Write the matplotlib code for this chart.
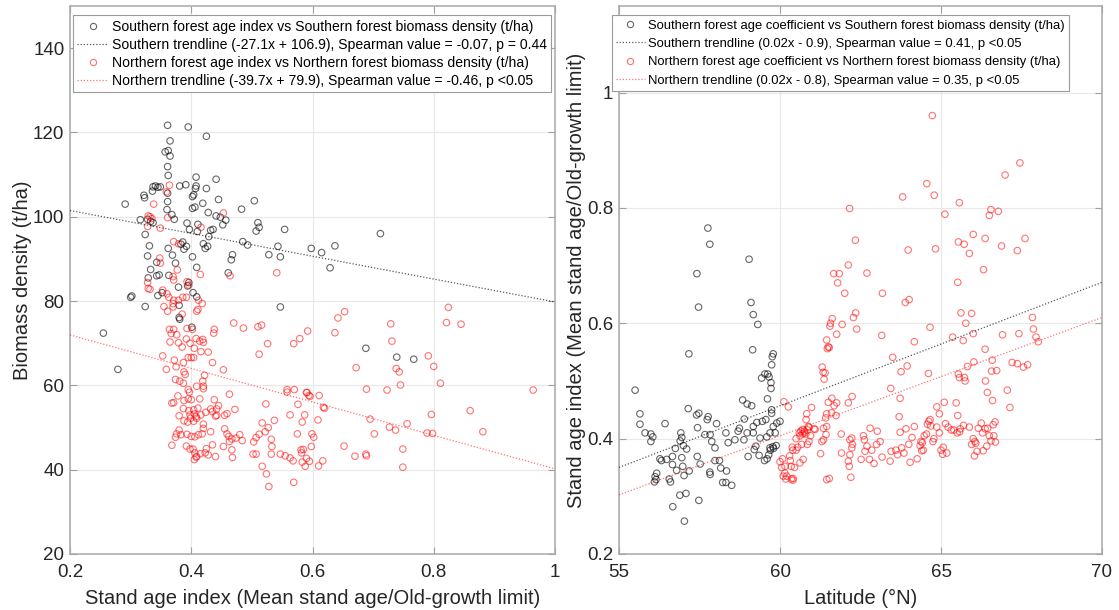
import numpy as np
import matplotlib
matplotlib.use("Agg")
import matplotlib.pyplot as plt
from matplotlib.lines import Line2D

plt.rcParams["font.family"] = ["Liberation Sans", "DejaVu Sans"]

# === Left panel: stand age index vs biomass density (t/ha) ===
left_south = [
    (0.255, 72.4), (0.279, 63.8), (0.291, 103.0), (0.300, 80.9), (0.302, 81.2), (0.316, 99.3),
    (0.322, 105.1), (0.323, 104.5), (0.324, 95.8), (0.324, 78.7), (0.328, 99.4), (0.328, 90.7),
    (0.329, 85.5), (0.331, 93.1), (0.333, 98.9), (0.333, 87.5), (0.336, 106.1), (0.337, 98.6),
    (0.337, 107.1), (0.341, 107.3), (0.345, 107.0), (0.349, 107.1), (0.343, 89.2), (0.343, 86.0),
    (0.345, 81.3), (0.347, 86.2), (0.352, 82.0), (0.357, 115.4), (0.360, 101.7), (0.361, 121.7),
    (0.361, 111.9), (0.361, 105.6), (0.361, 103.6), (0.362, 115.7), (0.362, 109.8), (0.362, 92.5),
    (0.363, 86.1), (0.365, 118.0), (0.365, 114.4), (0.368, 100.5), (0.369, 90.9), (0.372, 99.4),
    (0.374, 89.0), (0.379, 83.3), (0.380, 79.0), (0.380, 76.1), (0.381, 75.7), (0.381, 107.3),
    (0.383, 93.5), (0.386, 94.0), (0.388, 92.3), (0.391, 107.6), (0.392, 93.0), (0.393, 98.5),
    (0.395, 121.3), (0.394, 83.6), (0.396, 84.4), (0.397, 97.0), (0.401, 73.8), (0.402, 102.0),
    (0.402, 104.8), (0.402, 90.5), (0.403, 82.0), (0.404, 105.2), (0.406, 102.3), (0.407, 106.7),
    (0.408, 107.3), (0.408, 109.4), (0.408, 131.0), (0.409, 88.0), (0.409, 81.0), (0.410, 96.5),
    (0.411, 98.2), (0.419, 103.2), (0.420, 93.6), (0.423, 92.5), (0.425, 119.1), (0.425, 106.7),
    (0.427, 93.0), (0.428, 101.0), (0.429, 95.3), (0.432, 96.8), (0.436, 97.0), (0.441, 108.9),
    (0.441, 100.2), (0.445, 104.1), (0.448, 99.9), (0.452, 98.1), (0.457, 99.2), (0.461, 86.7),
    (0.466, 89.8), (0.468, 91.0), (0.483, 101.8), (0.485, 94.1), (0.493, 93.3), (0.504, 103.8),
    (0.507, 96.6), (0.510, 98.6), (0.512, 97.5), (0.528, 91.0), (0.543, 93.0), (0.547, 90.5),
    (0.547, 78.6), (0.554, 97.0), (0.598, 92.5), (0.615, 91.5), (0.629, 87.9), (0.637, 93.1),
    (0.688, 68.8), (0.712, 96.0), (0.739, 66.7), (0.767, 66.2),
]

left_north = [
    (0.364, 107.5), (0.359, 105.9), (0.338, 103.0), (0.453, 100.9), (0.329, 100.2), (0.332, 100.0),
    (0.335, 99.6), (0.328, 97.7), (0.349, 97.3), (0.361, 99.8), (0.416, 97.5), (0.371, 94.1),
    (0.379, 93.6), (0.348, 90.2), (0.349, 89.0), (0.377, 87.4), (0.370, 85.8), (0.371, 85.0),
    (0.415, 86.3), (0.464, 86.0), (0.541, 86.7), (0.328, 84.4), (0.329, 83.0), (0.332, 82.8),
    (0.393, 84.6), (0.396, 83.8), (0.353, 82.6), (0.360, 81.7), (0.363, 80.9), (0.371, 80.2),
    (0.370, 79.4), (0.379, 80.2), (0.386, 80.9), (0.392, 80.9), (0.412, 80.2), (0.418, 79.4),
    (0.409, 77.6), (0.411, 78.0), (0.355, 78.7), (0.361, 77.6), (0.385, 76.9), (0.370, 78.6),
    (0.470, 74.8), (0.486, 73.6), (0.510, 73.9), (0.516, 74.3), (0.592, 72.9), (0.364, 73.3),
    (0.371, 73.3), (0.393, 73.5), (0.402, 73.3), (0.438, 73.3), (0.437, 72.4), (0.367, 72.3),
    (0.376, 72.0), (0.408, 71.1), (0.579, 71.1), (0.569, 69.9), (0.526, 69.9), (0.419, 70.9),
    (0.365, 70.3), (0.379, 70.1), (0.385, 69.1), (0.392, 71.0), (0.398, 70.0), (0.405, 68.8),
    (0.414, 70.5), (0.420, 70.2), (0.416, 68.0), (0.428, 67.9), (0.512, 67.4), (0.353, 67.0),
    (0.359, 63.8), (0.372, 66.0), (0.375, 64.4), (0.387, 65.4), (0.388, 63.2), (0.390, 62.6),
    (0.395, 66.6), (0.400, 66.6), (0.404, 66.6), (0.435, 65.4), (0.453, 63.7), (0.374, 61.4),
    (0.381, 61.0), (0.387, 60.5), (0.419, 61.0), (0.422, 62.4), (0.420, 59.8), (0.420, 59.2),
    (0.409, 59.8), (0.395, 59.0), (0.397, 58.4), (0.378, 57.5), (0.388, 56.4), (0.395, 56.8),
    (0.400, 56.6), (0.414, 56.8), (0.368, 55.8), (0.371, 55.9), (0.463, 57.9), (0.438, 56.6),
    (0.445, 55.2), (0.442, 54.4), (0.440, 52.7), (0.472, 54.3), (0.459, 53.3), (0.455, 52.9),
    (0.523, 55.6), (0.558, 59.0), (0.558, 58.4), (0.570, 59.0), (0.590, 58.3), (0.594, 57.6),
    (0.576, 55.5), (0.387, 54.5), (0.396, 54.0), (0.404, 54.2), (0.411, 54.6), (0.398, 53.0),
    (0.405, 53.2), (0.408, 52.6), (0.416, 53.0), (0.424, 53.6), (0.432, 54.4), (0.380, 52.8),
    (0.388, 51.6), (0.394, 51.3), (0.399, 52.2), (0.404, 51.5), (0.409, 52.2), (0.420, 50.8),
    (0.435, 53.8), (0.442, 52.9), (0.380, 49.4), (0.383, 48.3), (0.393, 48.4), (0.400, 47.9),
    (0.406, 47.8), (0.412, 48.3), (0.418, 48.5), (0.420, 49.8), (0.432, 49.0), (0.374, 47.7),
    (0.368, 45.8), (0.376, 48.5), (0.392, 45.6), (0.398, 44.9), (0.403, 44.9), (0.406, 44.0),
    (0.408, 43.0), (0.405, 42.4), (0.409, 43.1), (0.415, 43.8), (0.423, 44.0), (0.425, 45.0),
    (0.428, 43.5), (0.435, 45.9), (0.440, 43.1), (0.455, 49.7), (0.459, 48.5), (0.462, 47.9),
    (0.467, 47.3), (0.463, 46.7), (0.467, 44.7), (0.468, 42.9), (0.453, 45.5), (0.480, 48.3),
    (0.484, 46.9), (0.474, 47.5), (0.503, 46.6), (0.507, 47.6), (0.512, 48.4), (0.517, 51.1),
    (0.522, 49.0), (0.527, 50.0), (0.537, 51.7), (0.532, 47.2), (0.533, 45.5), (0.532, 43.7),
    (0.547, 43.7), (0.502, 43.7), (0.507, 43.7), (0.517, 40.8), (0.524, 39.0), (0.528, 36.0),
    (0.563, 53.0), (0.575, 48.5), (0.587, 53.0), (0.582, 44.0), (0.585, 44.8), (0.595, 42.0),
    (0.588, 40.8), (0.563, 42.8), (0.555, 43.3), (0.568, 42.1), (0.569, 37.0), (0.824, 78.5),
    (0.821, 74.9), (0.845, 74.5), (0.729, 74.6), (0.731, 70.5), (0.642, 76.0), (0.653, 77.5),
    (0.637, 72.5), (0.672, 64.2), (0.791, 67.0), (0.800, 64.5), (0.811, 60.5), (0.738, 64.0),
    (0.743, 63.2), (0.745, 60.1), (0.689, 59.1), (0.723, 58.9), (0.964, 58.9), (0.591, 58.3),
    (0.596, 57.4), (0.611, 57.6), (0.618, 54.8), (0.620, 54.6), (0.583, 51.3), (0.609, 51.8),
    (0.695, 52.0), (0.727, 50.1), (0.737, 49.4), (0.756, 50.9), (0.796, 53.1), (0.860, 54.0),
    (0.881, 49.0), (0.789, 48.7), (0.798, 48.6), (0.702, 48.5), (0.599, 48.5), (0.602, 47.7),
    (0.598, 45.5), (0.581, 44.7), (0.583, 41.8), (0.590, 42.7), (0.610, 40.9), (0.617, 42.1),
    (0.652, 45.6), (0.670, 43.2), (0.688, 43.7), (0.689, 43.3), (0.749, 44.9), (0.749, 40.6),
]

# === Right panel: latitude (deg N) vs stand age index ===
right_south = [
    (57.76, 0.765), (57.82, 0.737), (57.42, 0.686), (57.47, 0.628), (59.04, 0.711), (59.10, 0.636),
    (59.17, 0.615), (59.31, 0.598), (57.17, 0.547), (59.15, 0.554), (55.50, 0.484), (55.65, 0.443),
    (55.65, 0.425), (55.81, 0.410), (55.99, 0.408), (56.05, 0.403), (55.99, 0.395), (56.43, 0.426),
    (57.15, 0.452), (57.41, 0.441), (57.48, 0.444), (57.44, 0.419), (57.77, 0.438), (57.74, 0.433),
    (58.03, 0.426), (56.92, 0.410), (56.95, 0.402), (56.90, 0.396), (57.00, 0.388), (57.10, 0.382),
    (56.75, 0.383), (56.48, 0.364), (56.27, 0.365), (56.32, 0.362), (56.17, 0.340), (56.12, 0.334),
    (56.15, 0.329), (56.10, 0.325), (56.56, 0.330), (56.60, 0.325), (56.79, 0.345), (56.66, 0.355),
    (56.66, 0.369), (57.02, 0.336), (57.18, 0.344), (56.95, 0.367), (56.98, 0.352), (57.43, 0.369),
    (57.52, 0.356), (57.67, 0.407), (57.83, 0.407), (57.88, 0.395), (57.98, 0.384), (57.82, 0.342),
    (57.83, 0.338), (57.98, 0.362), (58.12, 0.362), (58.16, 0.349), (58.34, 0.344), (58.22, 0.324),
    (58.32, 0.324), (58.50, 0.319), (58.32, 0.410), (58.39, 0.393), (58.60, 0.398), (58.70, 0.413),
    (58.74, 0.418), (58.84, 0.467), (58.98, 0.460), (59.12, 0.457), (58.89, 0.434), (58.88, 0.398),
    (59.01, 0.369), (58.98, 0.410), (59.17, 0.421), (59.28, 0.428), (59.45, 0.430), (59.17, 0.410),
    (59.38, 0.401), (59.25, 0.387), (59.20, 0.381), (59.35, 0.371), (59.52, 0.362), (59.60, 0.365),
    (59.65, 0.372), (59.70, 0.380), (59.80, 0.383), (59.88, 0.388), (59.43, 0.505), (59.53, 0.512),
    (59.62, 0.512), (59.66, 0.507), (59.72, 0.497), (59.72, 0.487), (59.74, 0.528), (59.79, 0.547),
    (59.76, 0.542), (59.61, 0.469), (59.74, 0.450), (59.74, 0.444), (59.56, 0.433), (59.79, 0.421),
    (59.90, 0.427), (60.00, 0.430), (59.69, 0.410), (59.59, 0.403), (59.69, 0.384), (59.78, 0.386),
    (59.85, 0.410), (56.67, 0.282), (56.89, 0.302), (57.08, 0.305), (57.48, 0.293), (57.03, 0.257),
]

right_north = [
    (60.12, 0.464), (60.26, 0.455), (60.00, 0.360), (60.05, 0.350), (60.08, 0.365), (60.15, 0.340),
    (60.10, 0.335), (60.18, 0.330), (60.35, 0.330), (60.40, 0.328), (60.30, 0.370), (60.32, 0.362),
    (60.35, 0.352), (60.45, 0.350), (60.38, 0.385), (60.40, 0.380), (60.50, 0.380), (60.55, 0.385),
    (60.50, 0.400), (60.60, 0.410), (60.65, 0.413), (60.62, 0.405), (60.70, 0.408), (60.75, 0.410),
    (60.80, 0.408), (60.85, 0.415), (60.90, 0.420), (60.95, 0.405), (60.90, 0.395), (60.85, 0.390),
    (64.73, 0.960), (67.45, 0.878), (66.99, 0.857), (64.56, 0.842), (63.81, 0.819), (64.79, 0.822),
    (62.16, 0.799), (65.57, 0.809), (65.12, 0.789), (66.55, 0.797), (66.50, 0.787), (66.78, 0.794),
    (62.34, 0.744), (63.98, 0.727), (64.83, 0.729), (65.54, 0.741), (65.72, 0.737), (66.00, 0.754),
    (65.88, 0.721), (66.37, 0.747), (66.88, 0.734), (67.37, 0.726), (67.61, 0.747), (66.32, 0.693),
    (62.12, 0.701), (61.67, 0.686), (61.84, 0.686), (61.79, 0.670), (62.01, 0.652), (62.70, 0.687),
    (63.18, 0.652), (65.52, 0.671), (63.89, 0.636), (64.01, 0.641), (61.62, 0.608), (61.57, 0.600),
    (61.55, 0.595), (61.93, 0.598), (61.76, 0.581), (62.28, 0.610), (62.35, 0.618), (62.38, 0.590),
    (63.16, 0.579), (64.66, 0.593), (65.62, 0.618), (65.95, 0.617), (65.77, 0.600), (66.00, 0.582),
    (65.36, 0.576), (65.69, 0.570), (64.17, 0.568), (67.84, 0.610), (67.87, 0.590), (67.95, 0.576),
    (68.02, 0.568), (66.91, 0.580), (67.42, 0.582), (66.37, 0.555), (61.45, 0.571), (61.50, 0.559),
    (61.47, 0.556), (61.53, 0.558), (61.31, 0.524), (61.34, 0.515), (61.40, 0.514), (61.37, 0.503),
    (63.50, 0.541), (63.95, 0.526), (63.76, 0.516), (64.61, 0.513), (65.82, 0.525), (66.02, 0.533),
    (65.54, 0.512), (65.57, 0.506), (65.73, 0.506), (65.75, 0.500), (66.59, 0.536), (66.73, 0.518),
    (66.57, 0.517), (67.21, 0.532), (67.37, 0.530), (67.56, 0.524), (67.69, 0.528), (66.38, 0.500),
    (66.44, 0.480), (66.60, 0.466), (67.06, 0.484), (67.14, 0.454), (63.44, 0.487), (63.73, 0.470),
    (63.70, 0.438), (65.10, 0.463), (65.47, 0.462), (64.87, 0.455), (64.95, 0.443), (66.68, 0.429),
    (62.24, 0.473), (62.12, 0.462), (61.76, 0.462), (61.68, 0.457), (61.50, 0.463), (61.61, 0.470),
    (60.98, 0.454), (61.60, 0.445), (61.74, 0.440), (61.45, 0.443), (61.42, 0.436), (60.83, 0.443),
    (60.81, 0.433), (60.88, 0.421), (61.09, 0.416), (61.35, 0.418), (61.45, 0.421), (61.43, 0.407),
    (60.70, 0.416), (60.75, 0.413), (61.06, 0.417), (60.67, 0.390), (60.72, 0.364), (60.62, 0.358),
    (61.30, 0.395), (61.35, 0.398), (61.26, 0.374), (61.45, 0.329), (61.53, 0.331), (61.90, 0.408),
    (61.91, 0.375), (62.17, 0.398), (62.23, 0.401), (62.23, 0.384), (62.25, 0.390), (62.17, 0.372),
    (62.12, 0.361), (62.15, 0.352), (62.20, 0.333), (62.52, 0.364), (62.59, 0.405), (62.64, 0.378),
    (62.80, 0.418), (62.78, 0.364), (62.92, 0.357), (63.02, 0.413), (63.11, 0.395), (63.17, 0.368),
    (62.62, 0.398), (62.70, 0.387), (62.85, 0.380), (63.00, 0.390), (63.42, 0.361), (63.45, 0.378),
    (63.73, 0.411), (63.78, 0.384), (63.91, 0.417), (64.04, 0.359), (64.17, 0.421), (64.26, 0.365),
    (63.60, 0.380), (63.65, 0.372), (63.85, 0.375), (64.00, 0.390), (64.10, 0.402), (64.35, 0.388),
    (64.38, 0.395), (64.42, 0.393), (64.45, 0.380), (64.40, 0.379), (64.48, 0.405), (64.55, 0.408),
    (64.58, 0.425), (64.62, 0.430), (64.66, 0.433), (64.68, 0.422), (64.75, 0.395), (64.78, 0.400),
    (64.87, 0.420), (64.95, 0.410), (65.00, 0.380), (65.05, 0.373), (65.14, 0.426), (65.22, 0.420),
    (65.32, 0.415), (65.40, 0.415), (65.50, 0.410), (65.58, 0.412), (65.60, 0.417), (65.52, 0.440),
    (65.70, 0.423), (65.88, 0.420), (66.00, 0.400), (66.05, 0.395), (66.08, 0.392), (66.12, 0.378),
    (66.25, 0.427), (66.45, 0.418), (66.50, 0.405), (66.55, 0.396), (66.62, 0.424), (66.64, 0.405),
    (66.69, 0.394), (66.42, 0.387), (66.31, 0.379), (66.04, 0.370), (65.95, 0.390), (66.16, 0.418),
    (66.37, 0.417), (66.29, 0.410), (65.07, 0.385), (65.18, 0.375), (60.16, 0.352), (60.21, 0.335),
    (60.41, 0.331),
]

# trendline coefficients (slope, intercept)
left_south_fit = (-27.1, 106.9)
left_north_fit = (-39.7, 79.9)
right_south_fit = (0.0214, -0.827)
right_north_fit = (0.0205, -0.825)

left_labels = [
    "Southern forest age index vs Southern forest biomass density (t/ha)",
    "Southern trendline (-27.1x + 106.9), Spearman value = -0.07, p = 0.44",
    "Northern forest age index vs Northern forest biomass density (t/ha)",
    "Northern trendline (-39.7x + 79.9), Spearman value = -0.46, p <0.05",
]
right_labels = [
    "Southern forest age coefficient vs Southern forest biomass density (t/ha)",
    "Southern trendline (0.02x - 0.9), Spearman value = 0.41, p <0.05",
    "Northern forest age coefficient vs Northern forest biomass density (t/ha)",
    "Northern trendline (0.02x - 0.8), Spearman value = 0.35, p <0.05",
]

BLACK = (0, 0, 0, 0.6)
RED = (1, 0, 0, 0.55)
LINE_BLACK = (0, 0, 0, 0.65)
LINE_RED = (1, 0, 0, 0.55)
DOTS = (0, (1, 1.5))


def draw_panel(ax, south, north, fit_s, fit_n, xlim, ylim, xticks, yticks,
               xticklabels, yticklabels, xlabel, ylabel, labels, legend_x,
               legend_fs, legend_sp):
    s = np.array(south)
    n = np.array(north)
    ax.scatter(s[:, 0], s[:, 1], s=22, facecolors="none", edgecolors=[BLACK], linewidths=0.8, zorder=3)
    ax.scatter(n[:, 0], n[:, 1], s=22, facecolors="none", edgecolors=[RED], linewidths=0.8, zorder=3)
    xx = np.array(xlim)
    ax.plot(xx, fit_s[0] * xx + fit_s[1], color=LINE_BLACK, lw=0.9, ls=DOTS, zorder=4)
    ax.plot(xx, fit_n[0] * xx + fit_n[1], color=LINE_RED, lw=0.9, ls=DOTS, zorder=4)

    ax.set_xlim(xlim)
    ax.set_ylim(ylim)
    ax.set_xticks(xticks)
    ax.set_xticklabels(xticklabels)
    ax.set_yticks(yticks)
    ax.set_yticklabels(yticklabels)
    ax.grid(True, color="#e8e8e8", lw=0.8, zorder=0)
    ax.set_axisbelow(True)
    ax.tick_params(direction="in", length=5, width=0.8, colors="#a0a0a0",
                   labelcolor="#262626", labelsize=13.5, top=True, right=True)
    ax.tick_params(axis="x", pad=7)
    ax.tick_params(axis="y", pad=4)
    for sp in ax.spines.values():
        sp.set_color("#a8a8a8")
        sp.set_linewidth(1.1)
    ax.set_xlabel(xlabel, fontsize=14.5, color="#262626", labelpad=6)
    ax.set_ylabel(ylabel, fontsize=14.5, color="#262626", labelpad=1)

    handles = [
        Line2D([], [], ls="none", marker="o", mfc="none", mec=BLACK, ms=4.5, mew=0.8),
        Line2D([], [], color=LINE_BLACK, lw=0.9, ls=DOTS),
        Line2D([], [], ls="none", marker="o", mfc="none", mec=RED, ms=4.5, mew=0.8),
        Line2D([], [], color=LINE_RED, lw=0.9, ls=DOTS),
    ]
    leg = ax.legend(handles, labels, loc="upper left", bbox_to_anchor=(legend_x, 0.983),
                    borderaxespad=0, fontsize=legend_fs, frameon=True, fancybox=False,
                    framealpha=1, edgecolor="#9a9a9a", handlelength=2.2,
                    handletextpad=0.25, labelspacing=legend_sp, borderpad=0.32)
    leg.get_frame().set_linewidth(0.8)
    leg.set_zorder(10)


fig = plt.figure(figsize=(11.19, 6.10), dpi=100)
ax1 = fig.add_axes([70 / 1119, 1 - 554 / 610, 485 / 1119, 548 / 610])
ax2 = fig.add_axes([619 / 1119, 1 - 554 / 610, 483 / 1119, 548 / 610])

draw_panel(ax1, left_south, left_north, left_south_fit, left_north_fit,
           (0.2, 1.0), (20, 150), [0.2, 0.4, 0.6, 0.8, 1.0], [20, 40, 60, 80, 100, 120, 140],
           ["0.2", "0.4", "0.6", "0.8", "1"], ["20", "40", "60", "80", "100", "120", "140"],
           "Stand age index (Mean stand age/Old-growth limit)", "Biomass density (t/ha)",
           left_labels, 0.006, 10.1, 0.29)

draw_panel(ax2, right_south, right_north, right_south_fit, right_north_fit,
           (55, 70), (0.2, 1.15), [55, 60, 65, 70], [0.2, 0.4, 0.6, 0.8, 1.0],
           ["55", "60", "65", "70"], ["0.2", "0.4", "0.6", "0.8", "1"],
           "Latitude (°N)", "Stand age index (Mean stand age/Old-growth limit)",
           right_labels, -0.0145, 9.35, 0.48)

fig.savefig("out.png", dpi=100)
